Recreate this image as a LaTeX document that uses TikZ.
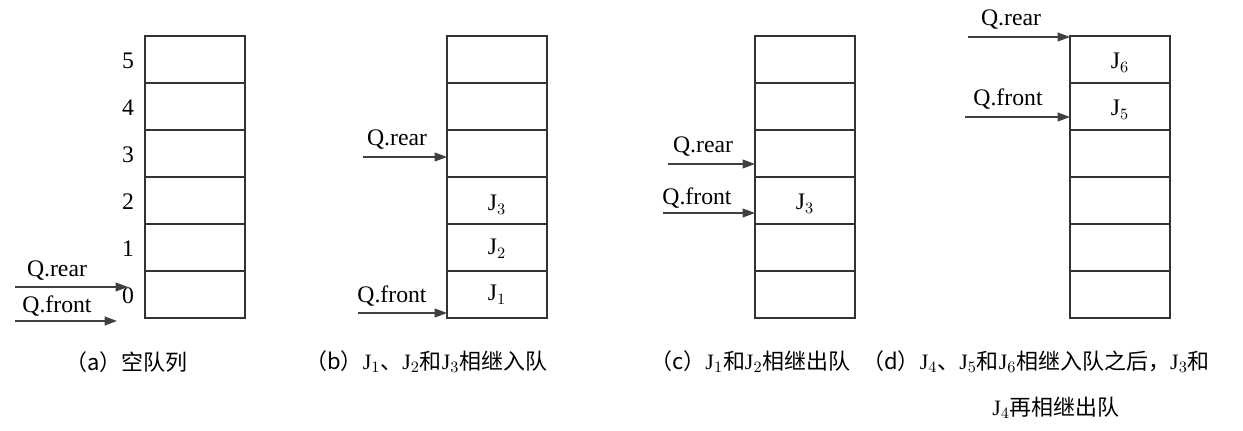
\documentclass[tikz,border=0pt]{standalone}
\usepackage{fontspec}
\setmainfont{Liberation Serif}
\newfontfamily\cjk{Noto Sans CJK SC}
\usetikzlibrary{arrows.meta}
\begin{document}
\begin{tikzpicture}[x=0.02cm,y=-0.02cm,font=\fontsize{13.5}{15}\selectfont,
    cell/.style={draw=black!80,line width=0.6pt},
    ptr/.style={-{Triangle[length=7pt,width=5pt]},draw=black!75,line width=0.8pt},
    lbl/.style={inner sep=0pt},
    captext/.style={inner sep=0pt,anchor=west,font=\fontsize{12.5}{15}\selectfont}]
  \useasboundingbox (0,0) rectangle (1243,431);
  % four stacks of six slots
  \foreach \q/\x in {a/145,b/447,c/755,d/1070}{
    \foreach \i in {0,...,5}{
      \draw[cell] (\x,{318-47*\i}) rectangle ({\x+100},{318-47*(\i+1)});
      \coordinate (\q\i) at (\x,{318-47*\i});
    }
    \coordinate (\q6) at (\x,37);
  }
  % (a)
  \foreach \i in {0,...,5}
    \node[lbl] (n\i) at (128,{296-47*\i}) {\i};
  \node[lbl] (ar) at (57,271) {Q.rear};
  \node[lbl] (af) at (57,306) {Q.front};
  \coordinate (are) at (15,287); \coordinate (ara) at (128,287);
  \coordinate (afe) at (15,321); \coordinate (afa) at (117,321);
  \draw[ptr] (are) -- (ara);
  \draw[ptr] (afe) -- (afa);
  % (b)
  \node[lbl] (br) at (397,140) {Q.rear};
  \node[lbl] (bf) at (392,296) {Q.front};
  \coordinate (bre) at (363,157); \coordinate (bfe) at (358,313);
  \draw[ptr] (bre) -- (bre -| b3);
  \draw[ptr] (bfe) -- (bfe -| b0);
  \node[lbl] (bj3) at (497,205) {J$_3$};
  \node[lbl] (bj2) at (497,249) {J$_2$};
  \node[lbl] (bj1) at (497,295) {J$_1$};
  % (c)
  \node[lbl] (cr) at (703,147) {Q.rear};
  \node[lbl] (cf) at (697,198) {Q.front};
  \coordinate (cre) at (668,164); \coordinate (cfe) at (663,213);
  \draw[ptr] (cre) -- (cre -| c3);
  \draw[ptr] (cfe) -- (cfe -| c2);
  \node[lbl] (cj3) at (805,204) {J$_3$};
  % (d)
  \node[lbl] (dr) at (1011,20) {Q.rear};
  \node[lbl] (df) at (1008,99) {Q.front};
  \coordinate (dre) at (968,37); \coordinate (dfe) at (965,117);
  \draw[ptr] (dre) -- (dre -| d6);
  \draw[ptr] (dfe) -- (dfe -| d5);
  \node[lbl] (dj6) at (1120,63) {J$_6$};
  \node[lbl] (dj5) at (1120,110) {J$_5$};
  % captions
  \node[captext] (capa) at (65,362) {\cjk（a）空队列};
  \node[captext] (capb) at (305,362) {\cjk（b）\rmfamily J$_1$\cjk 、\rmfamily J$_2$\cjk 和\rmfamily J$_3$\cjk 相继入队};
  \node[captext] (capc) at (650,362) {\cjk（c）\rmfamily J$_1$\cjk 和\rmfamily J$_2$\cjk 相继出队};
  \node[captext] (capd) at (862,362) {\cjk（d）\rmfamily J$_4$\cjk 、\rmfamily J$_5$\cjk 和\rmfamily J$_6$\cjk 相继入队之后，\rmfamily J$_3$\cjk 和};
  \node[captext] (capd2) at (992,408) {\rmfamily J$_4$\cjk 再相继出队};
\end{tikzpicture}
\end{document}
